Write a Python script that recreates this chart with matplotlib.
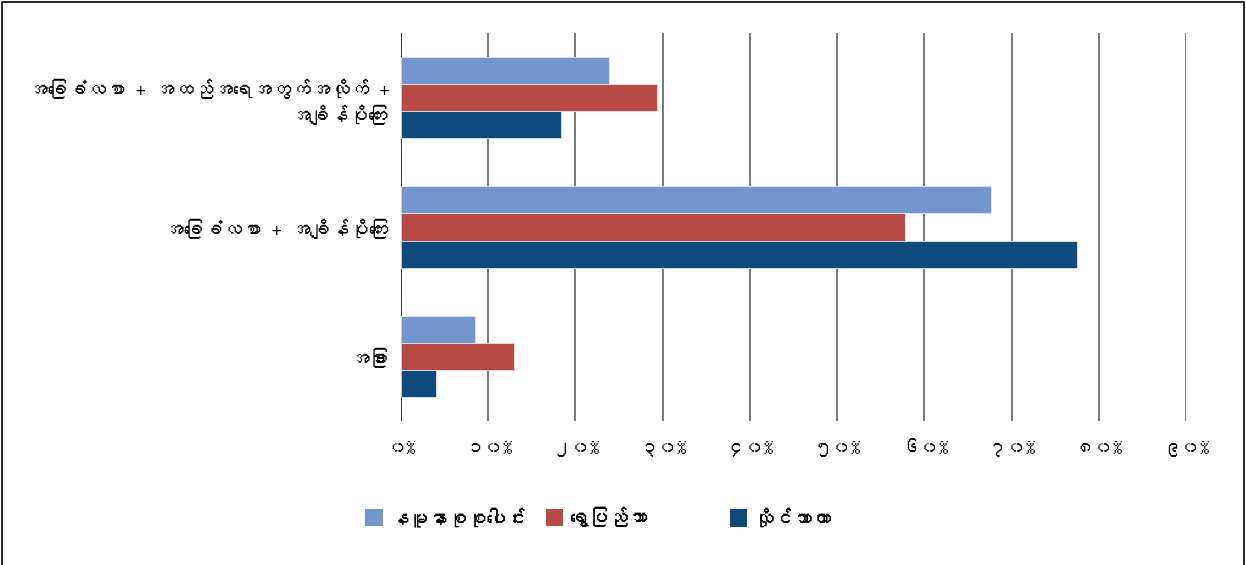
import numpy as np
import matplotlib
matplotlib.use("Agg")
import matplotlib.pyplot as plt
from matplotlib import font_manager, ft2font
from matplotlib.patches import Rectangle, Patch

categories = [
    "အခြေခံလစာ + အထည်အရေအတွက်အလိုက် +\nအချိန်ပိုကြေး",
    "အခြေခံလစာ + အချိန်ပိုကြေး",
    "အခြား",
]
series_names = ["နမူနာစုစုပေါင်း", "ရွှေပြည်သာ", "လှိုင်သာယာ"]
total = [23.9, 67.7, 8.5]
shwepyithar = [29.4, 57.8, 12.9]
hlaingtharyar = [18.4, 77.5, 4.0]
tick_values = [0, 10, 20, 30, 40, 50, 60, 70, 80, 90]
tick_labels = ["၀%", "၁၀%", "၂၀%", "၃၀%", "၄၀%", "၅၀%", "၆၀%", "၇၀%", "၈၀%", "၉၀%"]

colors = ["#7496CE", "#B84A45", "#0E4A7C"]


def myanmar_fonts():
    found = []
    for f in font_manager.fontManager.ttflist:
        try:
            cmap = ft2font.FT2Font(f.fname).get_charmap()
        except Exception:
            continue
        if 0x1000 in cmap and f.name not in found:
            found.append(f.name)
    return found


fams = myanmar_fonts() + ["DejaVu Sans"]
plt.rcParams["font.family"] = fams

fig = plt.figure(figsize=(12.46, 5.65), dpi=100)
ax = fig.add_axes([401 / 1246, 1 - 421 / 565, 785 / 1246, 388 / 565])

y = np.arange(len(categories))
h = 0.209
for k, vals in enumerate([total, shwepyithar, hlaingtharyar]):
    ax.barh(y + (k - 1) * h, vals, height=h, color=colors[k],
            edgecolor="#dfe6f0", linewidth=0.6, zorder=3)

ax.set_xlim(0, 90)
ax.set_ylim(-0.5, 2.5)
ax.invert_yaxis()
ax.set_xticks(tick_values)
ax.set_xticklabels(tick_labels, fontsize=13.5)
ax.set_yticks(y)
ax.set_yticklabels(categories, fontsize=14, ha="right", linespacing=1.3)
ax.tick_params(axis="x", length=0, pad=14)
ax.tick_params(axis="y", length=0, pad=9)
for v in tick_values:
    ax.axvline(v, color="black" if v == 0 else "#555555", lw=1.1, zorder=1)
for s in ax.spines.values():
    s.set_visible(False)

# one legend entry per slot, evenly spaced
legend_x = [348, 528, 712]
for k, name in enumerate(series_names):
    leg = fig.legend(handles=[Patch(facecolor=colors[k], label=name)],
                     loc="center left", bbox_to_anchor=(legend_x[k] / 1246, 1 - 517 / 565),
                     frameon=False, fontsize=14, handlelength=0.9, handleheight=1.0,
                     handletextpad=0.35)
    fig.add_artist(leg)

# outer frame, open at the bottom
fig.add_artist(Rectangle((2 / 1246, -0.05), 1242 / 1246, 1.05 - 2 / 565,
                         transform=fig.transFigure, fill=False, edgecolor="black", lw=1.2))

fig.savefig("out.png", dpi=100)
